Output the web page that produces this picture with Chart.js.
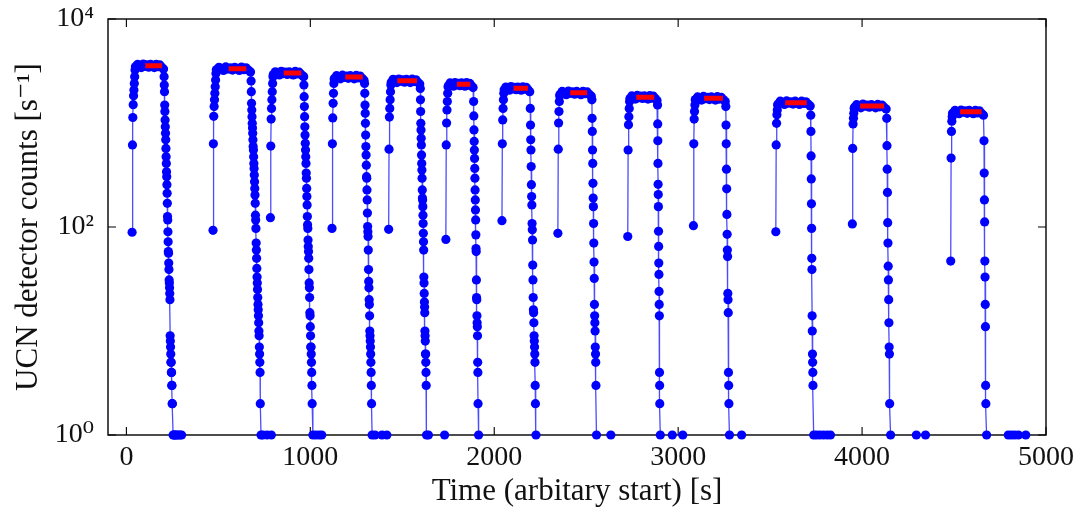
<!DOCTYPE html>
<html>
<head>
<meta charset="utf-8">
<script src="https://cdn.jsdelivr.net/npm/chart.js@4.4.1/dist/chart.umd.min.js"></script>
<style>
    html, body { margin: 0; padding: 0; background: #fff; }
</style>
</head>
<body>
<canvas id="ucnChart" width="1078" height="512"></canvas>
<script>
// ======== Data =============================
// one entry per fill/empty cycle (13 cycles), times in s, rates in s^-1
const fillStart  = [31, 471, 783, 1118, 1426, 1737, 2042, 2346, 2726, 3083, 3531, 3947, 4482];
const emptyStart = [205, 678, 964, 1295, 1598, 1888, 2196, 2531, 2888, 3259, 3721, 4134, 4663];
const emptyEnd   = [250, 728, 1010, 1333, 1630, 1912, 2224, 2553, 2900, 3276, 3733, 4150, 4673];
const RISE_BIN = 2;

const riseCounts = [
    [89, 615, 1130, 1500, 1830, 2080, 2400, 2790, 3230, 3480],
    [93, 630, 1160, 1440, 1670, 1930, 2230, 2590, 3000, 3250],
    [123, 600, 1090, 1380, 1670, 2000, 2400, 2790],
    [97, 630, 1120, 1545, 1930, 2400, 2650],
    [95, 560, 1140, 1380, 1670, 2000, 2320],
    [76, 615, 1000, 1333, 1610, 1930, 2230],
    [115, 630, 1070, 1380, 1670, 1930],
    [87, 560, 1000, 1290, 1610, 1830],
    [81, 550, 960, 1150, 1380, 1610],
    [103, 630, 1090, 1290, 1490, 1670],
    [90, 615, 993, 1200, 1333, 1490],
    [107, 570, 980, 1110, 1240, 1380],
    [47, 460, 830, 1040, 1150, 1240]
];

const plateauCounts = [
    [3440, 3660, 3590, 3410, 3690, 3510, 3620, 3440, 3660, 3550, 3410, 3670, 3480, 3620, 3440, 3300],
    [3230, 3430, 3360, 3200, 3460, 3300, 3400, 3230, 3430, 3330, 3200, 3450, 3260, 3400, 3230, 3100],
    [2930, 3110, 3050, 2900, 3140, 2990, 3080, 2930, 3110, 3020, 2900, 3130, 2960, 3080, 2930, 2810],
    [2690, 2850, 2800, 2660, 2880, 2740, 2830, 2690, 2850, 2770, 2660, 2870, 2710, 2830, 2690, 2580],
    [2470, 2630, 2580, 2450, 2650, 2520, 2600, 2470, 2630, 2550, 2450, 2640, 2500, 2600, 2470, 2370],
    [2280, 2430, 2380, 2260, 2450, 2330, 2400, 2280, 2430, 2355, 2260, 2440, 2310, 2400, 2280, 2190],
    [2090, 2220, 2180, 2070, 2240, 2130, 2200, 2090, 2220, 2155, 2070, 2230, 2110, 2200, 2090, 2000],
    [1890, 2010, 1970, 1870, 2030, 1930, 1990, 1890, 2010, 1950, 1870, 2020, 1910, 1990, 1890, 1810],
    [1720, 1820, 1790, 1700, 1840, 1750, 1810, 1720, 1820, 1770, 1700, 1830, 1730, 1810, 1720, 1650],
    [1680, 1780, 1750, 1660, 1800, 1710, 1760, 1680, 1780, 1730, 1660, 1790, 1700, 1760, 1680, 1610],
    [1520, 1620, 1590, 1510, 1630, 1550, 1600, 1520, 1620, 1570, 1510, 1620, 1540, 1600, 1520, 1460],
    [1420, 1500, 1470, 1400, 1520, 1450, 1490, 1420, 1500, 1460, 1400, 1510, 1430, 1490, 1420, 1360],
    [1240, 1320, 1290, 1230, 1330, 1270, 1310, 1240, 1320, 1280, 1230, 1320, 1250, 1310, 1240, 1190]
];

const fallCounts = [
    [2790, 2320, 2000, 1490, 1290, 1070, 920, 795, 690, 570, 474, 409, 340, 305, 255, 211, 169, 126, 117, 90, 72, 58, 56, 45, 39, 31, 29, 26, 23, 20, 9, 8, 7, 6, 5, 5, 4, 4, 3, 3, 2, 2],
    [2540, 2000, 1545, 1333, 1150, 993, 893, 795, 690, 593, 550, 474, 409, 366, 316, 272, 235, 203, 169, 130, 117, 97, 70, 60, 50, 40, 33, 29, 25, 21, 18, 16, 14, 12, 10, 9, 7, 6, 5, 4, 2],
    [2790, 2320, 1790, 1440, 1150, 920, 765, 637, 550, 474, 409, 330, 295, 235, 196, 163, 126, 105, 97, 75, 65, 58, 50, 39, 29, 26, 21, 15, 14, 11, 9, 7, 7, 6, 5, 4, 3, 2],
    [2400, 1930, 1490, 1240, 993, 765, 593, 493, 393, 305, 295, 227, 182, 136, 101, 90, 81, 60, 39, 30, 26, 20, 18, 14, 10, 9, 8, 7, 6, 5, 4, 3, 2],
    [2150, 1670, 1290, 993, 857, 715, 615, 493, 409, 353, 295, 227, 190, 182, 157, 130, 108, 87, 72, 60, 33, 29, 23, 19, 17, 15, 10, 9, 8, 6, 6, 5, 4, 3],
    [1610, 1170, 857, 665, 550, 456, 366, 295, 227, 182, 146, 117, 84, 62, 58, 31, 21, 20, 14, 12, 11, 9, 5, 4, 2],
    [1380, 955, 690, 550, 381, 255, 196, 163, 108, 94, 75, 43, 31, 21, 16, 15, 12, 9, 8, 7, 6, 5, 3, 2],
    [1670, 1110, 830, 550, 409, 263, 190, 157, 108, 70, 46, 32, 18, 14, 12, 10, 7, 6, 5, 3],
    [1490, 980, 675, 409, 257, 205, 157, 91, 65, 45, 35, 24, 18, 14, 4, 3, 2],
    [1440, 955, 630, 360, 233, 132, 85, 60, 52, 23, 20, 15, 4, 3, 2],
    [1190, 830, 482, 290, 167, 97, 50, 39, 14, 10, 6, 5, 4, 3],
    [1110, 605, 360, 215, 110, 70, 42, 31, 20, 12, 7, 6, 2],
    [675, 330, 182, 112, 47, 33, 18, 11, 3, 2]
];

// bins at 1 count right after each drop (still joined to the curve)
const tailTimes = [
    [254, 258, 263, 268, 275, 283, 292, 300],
    [732, 742, 765, 788],
    [1014, 1030, 1048, 1062],
    [1336, 1352],
    [1632, 1642],
    [1915],
    [2227],
    [2556],
    [2903],
    [3279],
    [3737, 3752, 3770, 3790, 3810, 3828],
    [4155],
    [4677]
];
// isolated background bins at 1 count
const strayTimes = [1390, 1416, 1730, 2634, 2968, 3025, 3345, 4295, 4345, 4795, 4812, 4830, 4850, 4890];

// red bars: averaged storage rate
const barStart = [103, 556, 855, 1190, 1473, 1797, 2105, 2413, 2772, 3141, 3582, 3989, 4533];
const barEnd   = [194, 652, 951, 1285, 1580, 1870, 2183, 2505, 2870, 3243, 3699, 4120, 4650];
const barLevel = [3550, 3330, 3020, 2770, 2550, 2355, 2155, 1950, 1770, 1730, 1570, 1460, 1280];

const xTicks = [0, 1000, 2000, 3000, 4000, 5000];
const yTicks = [1, 100, 10000];

// ======== Build datasets =========
function cyclePoints(i) {
    const pts = [];
    const rise = riseCounts[i];
    rise.forEach((c, k) => pts.push({ x: fillStart[i] + k * RISE_BIN, y: c }));

    const plat = plateauCounts[i];
    const p0 = fillStart[i] + rise.length * RISE_BIN;
    const p1 = emptyStart[i] - 3;
    plat.forEach((c, k) => pts.push({ x: p0 + (p1 - p0) * k / (plat.length - 1), y: c }));

    const fall = fallCounts[i];
    fall.forEach((c, k) => pts.push({
        x: emptyStart[i] + (emptyEnd[i] - emptyStart[i]) * k / (fall.length - 1),
        y: c
    }));

    tailTimes[i].forEach(t => pts.push({ x: t, y: 1 }));
    return pts;
}

const BLUE = '#0000ff';
const DOT = 4.6;
const datasets = [];

// red bars first so they sit on top
const barPts = [];
barStart.forEach((s, i) => {
    barPts.push({ x: s, y: barLevel[i] }, { x: barEnd[i], y: barLevel[i] }, { x: barEnd[i], y: null });
});
datasets.push({
    data: barPts,
    showLine: true,
    spanGaps: false,
    borderColor: '#ff0000',
    borderWidth: 5,
    borderCapStyle: 'butt',
    pointRadius: 0,
    clip: false
});

fillStart.forEach((_, i) => {
    datasets.push({
        data: cyclePoints(i),
        showLine: true,
        borderColor: 'rgba(0,0,255,0.7)',
        borderWidth: 1.3,
        pointRadius: DOT,
        pointBackgroundColor: BLUE,
        pointBorderWidth: 0,
        tension: 0,
        clip: false
    });
});

datasets.push({
    data: strayTimes.map(t => ({ x: t, y: 1 })),
    showLine: false,
    pointRadius: DOT,
    pointBackgroundColor: BLUE,
    pointBorderWidth: 0,
    clip: false
});

// ======== Axes box with inward ticks =========
const TICK = 8;
const frameAndTicks = {
    id: 'frameAndTicks',
    beforeDatasetsDraw(chart) {
        const { ctx, chartArea: a, scales: { x, y } } = chart;
        ctx.save();
        ctx.strokeStyle = '#000';
        ctx.lineWidth = 1.4;
        ctx.strokeRect(a.left, a.top, a.right - a.left, a.bottom - a.top);
        ctx.beginPath();
        xTicks.forEach(v => {
            const px = x.getPixelForValue(v);
            ctx.moveTo(px, a.bottom); ctx.lineTo(px, a.bottom - TICK);
            ctx.moveTo(px, a.top); ctx.lineTo(px, a.top + TICK);
        });
        yTicks.forEach(v => {
            const py = y.getPixelForValue(v);
            ctx.moveTo(a.left, py); ctx.lineTo(a.left + TICK, py);
            ctx.moveTo(a.right, py); ctx.lineTo(a.right - TICK, py);
        });
        ctx.lineWidth = 1.1;
        ctx.stroke();
        ctx.restore();
    }
};

const SUP = { 0: '\u2070', 1: '\u00b9', 2: '\u00b2', 3: '\u00b3', 4: '\u2074' };
const FONT = "'Liberation Serif', 'DejaVu Serif', serif";
const TEXT = '#111';

new Chart(document.getElementById('ucnChart').getContext('2d'), {
    type: 'scatter',
    data: { datasets },
    plugins: [frameAndTicks],
    options: {
        responsive: false,
        devicePixelRatio: 1,
        animation: false,
        layout: { padding: { top: 19, right: 32, bottom: 0, left: 0 } },
        plugins: {
            legend: { display: false },
            tooltip: { enabled: false }
        },
        scales: {
            x: {
                type: 'linear',
                min: -100,
                max: 5000,
                afterBuildTicks: s => { s.ticks = xTicks.map(v => ({ value: v })); },
                afterFit: s => { s.height = 77; s.paddingLeft = 0; s.paddingRight = 0; },
                grid: { display: false, drawTicks: false },
                border: { display: false },
                ticks: {
                    font: { family: FONT, size: 28 },
                    color: TEXT,
                    padding: 6,
                    maxRotation: 0,
                    autoSkip: false,
                    callback: v => String(v)
                },
                title: {
                    display: true,
                    text: 'Time (arbitary start) [s]',
                    font: { family: FONT, size: 31 },
                    color: TEXT,
                    padding: { top: 0, bottom: 2 }
                }
            },
            y: {
                type: 'logarithmic',
                min: 1,
                max: 10000,
                afterBuildTicks: s => { s.ticks = yTicks.map(v => ({ value: v })); },
                afterFit: s => { s.width = 108; s.paddingTop = 0; s.paddingBottom = 0; },
                grid: { display: false, drawTicks: false },
                border: { display: false },
                ticks: {
                    font: { family: FONT, size: 28 },
                    color: TEXT,
                    padding: 14,
                    callback: v => '10' + SUP[Math.round(Math.log10(v))]
                },
                title: {
                    display: true,
                    text: 'UCN detector counts [s\u207b\u00b9]',
                    font: { family: FONT, size: 31 },
                    color: TEXT,
                    padding: { top: 10, bottom: 0 }
                }
            }
        }
    }
});
</script>
</body>
</html>
